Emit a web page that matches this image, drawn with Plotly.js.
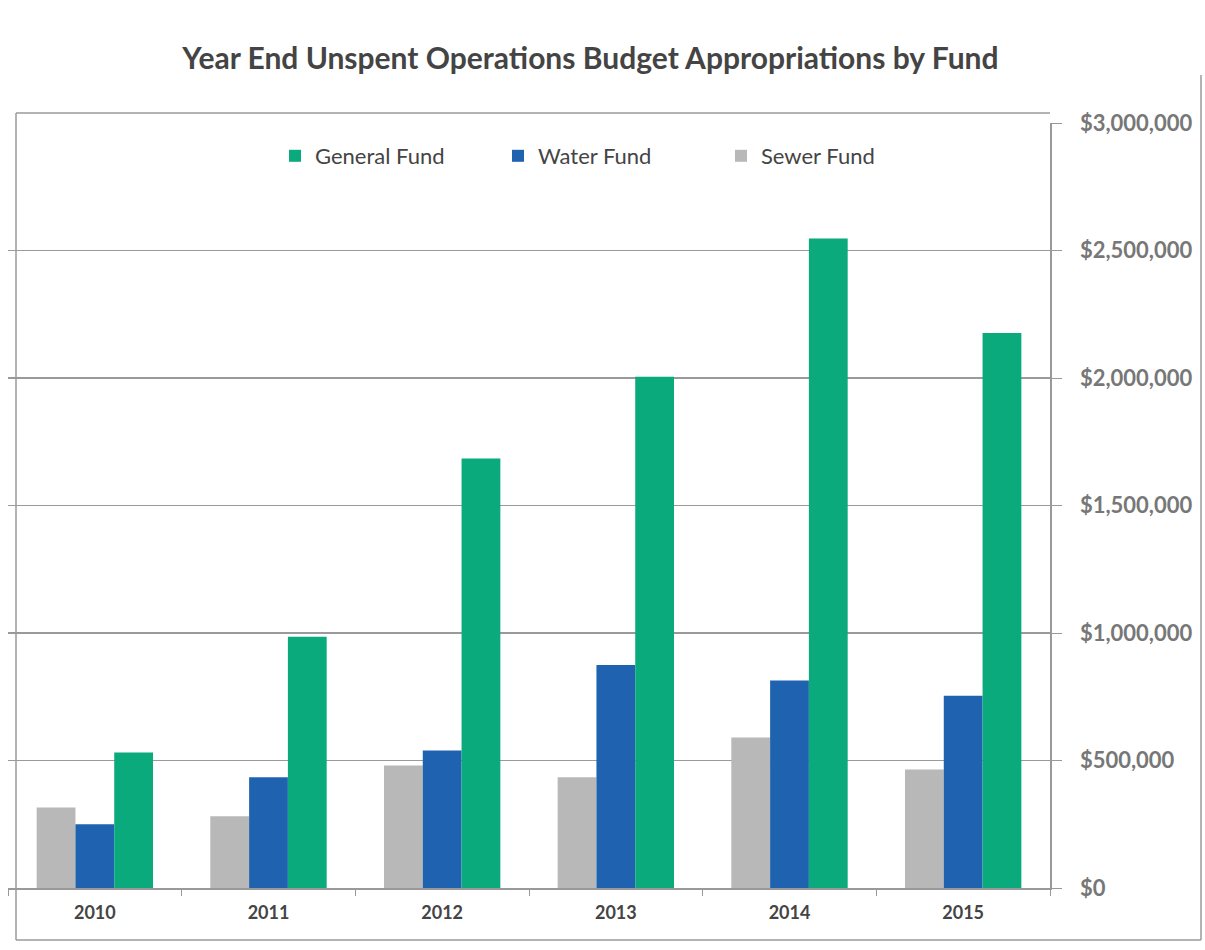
<!DOCTYPE html>
<html>
<head>
<meta charset="utf-8">
<script src="https://cdn.plot.ly/plotly-3.0.1.min.js"></script>
<style>html,body{margin:0;padding:0;background:#fff;}#chart{width:1205px;height:950px;}</style>
</head>
<body>
<div id="chart"></div>
<script>
const years = ['2010', '2011', '2012', '2013', '2014', '2015'];
const sewerFund = [316000, 281000, 480000, 434000, 590000, 465000];
const waterFund = [250000, 434000, 539000, 875000, 814000, 754000];
const generalFund = [531000, 985000, 1684000, 2005000, 2547000, 2176000];
const yTicks = [0, 500000, 1000000, 1500000, 2000000, 2500000, 3000000];
const yTickText = ['$0', '$500,000', '$1,000,000', '$1,500,000', '$2,000,000', '$2,500,000', '$3,000,000'];

const font = 'Lato, "Open Sans", sans-serif';
const traces = [
  {type: 'bar', name: 'Sewer Fund', x: years, y: sewerFund, marker: {color: '#b8b8b8'}, legendrank: 3},
  {type: 'bar', name: 'Water Fund', x: years, y: waterFund, marker: {color: '#1f63b0'}, legendrank: 2},
  {type: 'bar', name: 'General Fund', x: years, y: generalFund, marker: {color: '#0aaa7c'}, legendrank: 1}
];
const W = 1042; // plot width in px
const px = p => (p - 8) / W;
const py = p => (888 - p) / 765;
const layout = {
  width: 1205, height: 950,
  margin: {l: 8, r: 155, t: 123, b: 62},
  paper_bgcolor: '#ffffff', plot_bgcolor: '#ffffff',
  title: {text: '<b>Year End Unspent Operations Budget Appropriations by Fund</b>', x: 0.49, xanchor: 'center', y: 0.938, yanchor: 'middle',
          font: {family: font, size: 30, color: '#444444'}},
  barmode: 'group', bargap: 0.33, bargroupgap: 0,
  showlegend: true,
  legend: {orientation: 'h', x: px(275), xanchor: 'left', y: py(156), yanchor: 'middle',
           font: {family: font, size: 22, color: '#444444'}, bgcolor: 'rgba(0,0,0,0)', itemwidth: 30,
           entrywidth: 178, entrywidthmode: 'pixels'},
  xaxis: {type: 'category', showgrid: false, showline: true, linecolor: '#999999', linewidth: 1.5,
          ticks: 'outside', tickson: 'boundaries', ticklen: 6, tickcolor: '#999999', ticklabelstandoff: 8,
          tickfont: {family: font, size: 18, color: '#444444'}, tickprefix: '<b>', ticksuffix: '</b>'},
  yaxis: {side: 'right', range: [0, 3000000], tickvals: yTicks, ticktext: yTickText.map(t => '<b>' + t + '</b>'),
          showgrid: true, gridcolor: '#9a9a9a', gridwidth: 1.5, zeroline: false,
          showline: true, linecolor: '#999999', linewidth: 1.5, ticks: 'outside', ticklen: 10, tickcolor: '#999999',
          ticklabelstandoff: 14,
          tickfont: {family: font, size: 22, color: '#777777'}},
  shapes: [
    {type: 'line', xref: 'paper', yref: 'paper', x0: px(16), x1: px(16), y0: py(940), y1: py(113), line: {color: '#9a9a9a', width: 1.5}},
    {type: 'line', xref: 'paper', yref: 'paper', x0: px(16), x1: 1.0, y0: py(113), y1: py(113), line: {color: '#9a9a9a', width: 1.5}},
    {type: 'line', xref: 'paper', yref: 'paper', x0: px(16), x1: px(1201), y0: py(940), y1: py(940), line: {color: '#9a9a9a', width: 1.5}},
    {type: 'line', xref: 'paper', yref: 'paper', x0: px(1201), x1: px(1201), y0: py(940), y1: py(75), line: {color: '#9a9a9a', width: 1.5}}
  ]
};
Plotly.newPlot('chart', traces, layout, {displayModeBar: false, staticPlot: true});
</script>
</body>
</html>
